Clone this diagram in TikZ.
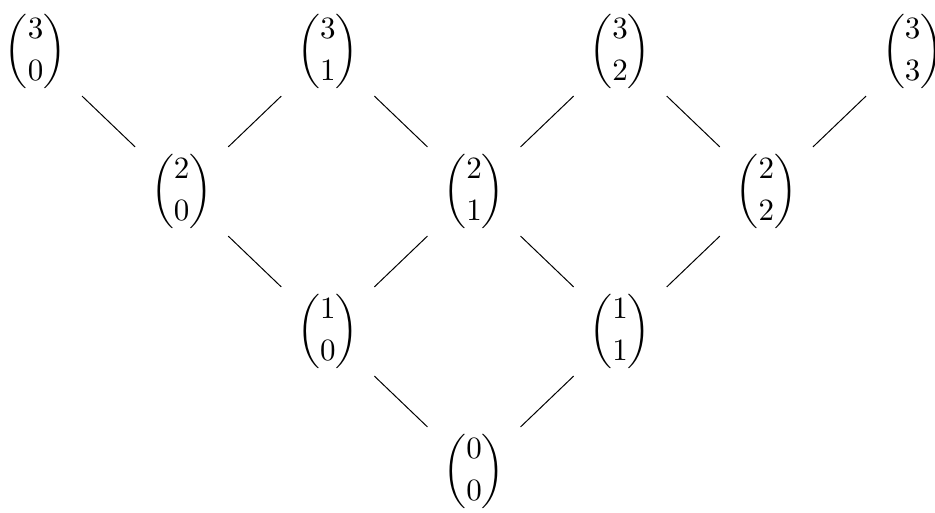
\documentclass[tikz,border=0pt]{standalone}
\usepackage{amsmath}
\usepackage{graphicx}
\newcommand{\bnm}[2]{\scalebox{1.24}{$\dbinom{#1}{#2}$}}
\begin{document}
\begin{tikzpicture}[x=0.4pt,y=-0.4pt,
  bn/.style={circle, minimum size=51.2pt, inner sep=0pt},
  edge/.style={line width=0.4pt}]
\useasboundingbox (0,0) rectangle (935,513);
\clip (0,0) rectangle (935,513);
\node[bn] (n30) at (35.5,51.5)  {\bnm{3}{0}};
\node[bn] (n31) at (327.8,51.5) {\bnm{3}{1}};
\node[bn] (n32) at (620.2,51.5) {\bnm{3}{2}};
\node[bn] (n33) at (912.6,51.5) {\bnm{3}{3}};
\node[bn] (n20) at (181.7,191.5) {\bnm{2}{0}};
\node[bn] (n21) at (474,191.5)   {\bnm{2}{1}};
\node[bn] (n22) at (766.4,191.5) {\bnm{2}{2}};
\node[bn] (n10) at (327.8,331.5) {\bnm{1}{0}};
\node[bn] (n11) at (620.2,331.5) {\bnm{1}{1}};
\node[bn] (n00) at (474,471.5)   {\bnm{0}{0}};
\draw[edge] (n30) -- (n20);
\draw[edge] (n31) -- (n20);
\draw[edge] (n31) -- (n21);
\draw[edge] (n32) -- (n21);
\draw[edge] (n32) -- (n22);
\draw[edge] (n33) -- (n22);
\draw[edge] (n20) -- (n10);
\draw[edge] (n21) -- (n10);
\draw[edge] (n21) -- (n11);
\draw[edge] (n22) -- (n11);
\draw[edge] (n10) -- (n00);
\draw[edge] (n11) -- (n00);
\end{tikzpicture}
\end{document}
